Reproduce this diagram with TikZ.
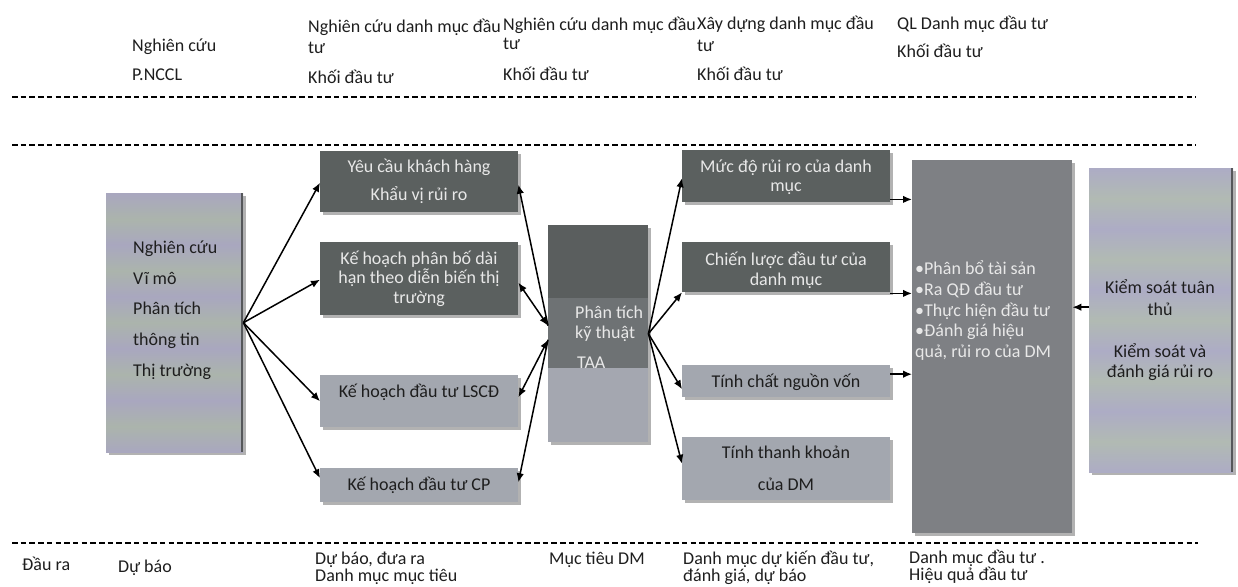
\documentclass[tikz,border=0pt]{standalone}
\usepackage{fontspec}
\setmainfont{Carlito}
\usetikzlibrary{arrows.meta,shadows,calc}
\definecolor{darkbox}{HTML}{5B605F}
\definecolor{lightbox}{HTML}{A3A7AF}
\definecolor{ctop}{HTML}{5A5E5E}
\definecolor{cmid}{HTML}{6E7274}
\definecolor{cbot}{HTML}{A4A7B0}
\definecolor{ebox}{HTML}{7E8084}
\definecolor{lavA}{HTML}{A9A7BF}
\definecolor{grnA}{HTML}{ABB4AC}
\definecolor{lavF}{HTML}{ADACC5}
\definecolor{grnF}{HTML}{B1BAB3}
\definecolor{edgeC}{HTML}{55575A}
\definecolor{txtlight}{HTML}{E8E8E8}
\definecolor{txtdark}{HTML}{1E1E1E}
\pgfdeclareverticalshading{bandsA}{100bp}{color(0bp)=(lavA); color(25bp)=(lavA); color(30bp)=(grnA); color(35bp)=(lavA); color(40bp)=(grnA); color(45bp)=(lavA); color(50bp)=(grnA); color(55bp)=(lavA); color(60bp)=(grnA); color(65bp)=(lavA); color(70bp)=(grnA); color(75bp)=(lavA); color(100bp)=(lavA)}
\pgfdeclareverticalshading{bandsF}{100bp}{color(0bp)=(lavF); color(25bp)=(lavF); color(30bp)=(grnF); color(35bp)=(lavF); color(40bp)=(grnF); color(45bp)=(lavF); color(50bp)=(grnF); color(55bp)=(lavF); color(60bp)=(grnF); color(65bp)=(lavF); color(70bp)=(grnF); color(75bp)=(lavF); color(100bp)=(lavF)}
\tikzset{
  txt/.style={font=\fontsize{18}{20}\selectfont, inner sep=0pt, text=txtdark},
  wtxt/.style={txt, text=txtlight},
  box/.style={draw=none, inner sep=0pt, anchor=north west,
    drop shadow={shadow xshift=2.5pt, shadow yshift=-2.5pt, opacity=0.3, fill=black}},
  dashline/.style={line width=1.6pt, dash pattern=on 5.5pt off 3.2pt},
  arr/.style={line width=1.5pt, -{Latex[length=9pt,width=7.5pt]}},
  arrb/.style={line width=1.5pt, {Latex[length=9pt,width=7.5pt]}-{Latex[length=9pt,width=7.5pt]}},
}
\begin{document}
\begin{tikzpicture}[x=1pt,y=-1pt]
\useasboundingbox[fill=white] (0,0) rectangle (1238,586);

% header texts
\node[txt,anchor=base west] (h1a) at (132,52) {Nghiên cứu};
\node[txt,anchor=base west] (h1b) at (132,81) {P.NCCL};
\node[txt,anchor=base west] (h2a) at (308,33) {Nghiên cứu danh mục đầu};
\node[txt,anchor=base west] (h2b) at (308,53) {tư};
\node[txt,anchor=base west] (h2c) at (308,83) {Khối đầu tư};
\node[txt,anchor=base west] (h3a) at (503,31) {Nghiên cứu danh mục đầu};
\node[txt,anchor=base west] (h3b) at (503,50) {tư};
\node[txt,anchor=base west] (h3c) at (503,80) {Khối đầu tư};
\node[txt,anchor=base west] (h4a) at (697,30) {Xây dựng danh mục đầu};
\node[txt,anchor=base west] (h4b) at (697,52) {tư};
\node[txt,anchor=base west] (h4c) at (697,80) {Khối đầu tư};
\node[txt,anchor=base west] (h5a) at (897,30) {QL Danh mục đầu tư};
\node[txt,anchor=base west] (h5b) at (897,58) {Khối đầu tư};

% dashed separators
\draw[dashline] (12,97) -- (1196,97);
\draw[dashline] (12,145) -- (1196,145);
\draw[dashline] (12,543) -- (1198,543);

% box A
\node[box, shading=bandsA, minimum width=137pt, minimum height=259pt] (a) at (106,193) {};
\draw[edgeC, line width=2pt] ([xshift=-1pt]a.north east) -- ([xshift=-1pt]a.south east);
\node[txt,anchor=base west] (at1) at (133,253) {Nghiên cứu};
\node[txt,anchor=base west] (at2) at (133,284) {Vĩ mô};
\node[txt,anchor=base west] (at3) at (133,314) {Phân tích};
\node[txt,anchor=base west] (at4) at (133,345) {thông tin};
\node[txt,anchor=base west] (at5) at (133,376) {Thị trường};

% B boxes
\node[box, fill=darkbox, minimum width=198pt, minimum height=61pt] (b1) at (320,151) {};
\node[wtxt,anchor=base] (b1t1) at (419,172) {Yêu cầu khách hàng};
\node[wtxt,anchor=base] (b1t2) at (419,200) {Khẩu vị rủi ro};
\node[box, fill=darkbox, minimum width=198pt, minimum height=73pt] (b2) at (320,242) {};
\node[wtxt,anchor=base] (b2t1) at (419,264) {Kế hoạch phân bố dài};
\node[wtxt,anchor=base] (b2t2) at (419,283) {hạn theo diễn biến thị};
\node[wtxt,anchor=base] (b2t3) at (419,303) {trường};
\node[box, fill=lightbox, minimum width=198pt, minimum height=52pt] (b3) at (320,375) {};
\node[txt,anchor=base] (b3t) at (419,397) {Kế hoạch đầu tư LSCĐ};
\node[box, fill=lightbox, minimum width=198pt, minimum height=34pt] (b4) at (320,468) {};
\node[txt,anchor=base] (b4t) at (419,490) {Kế hoạch đầu tư CP};

% C box
\node[box, fill=cbot, minimum width=100pt, minimum height=217pt] (c) at (548,225) {};
\fill[ctop] (c.north west) rectangle ($(c.north east)+(0,73)$);
\fill[cmid] ($(c.north west)+(0,73)$) rectangle ($(c.north east)+(0,143)$);
\node[wtxt,anchor=base west] (ct1) at (575,318) {Phân tích};
\node[wtxt,anchor=base west] (ct2) at (575,338) {kỹ thuật};
\node[wtxt,anchor=base west] (ct3) at (577,368) {TAA};

% D boxes
\node[box, fill=darkbox, minimum width=208pt, minimum height=52pt] (d1) at (682,150) {};
\node[wtxt,anchor=base] (d1t1) at (786,172) {Mức độ rủi ro của danh};
\node[wtxt,anchor=base] (d1t2) at (786,191) {mục};
\node[box, fill=darkbox, minimum width=208pt, minimum height=50pt] (d2) at (682,242) {};
\node[wtxt,anchor=base] (d2t1) at (786,265) {Chiến lược đầu tư của};
\node[wtxt,anchor=base] (d2t2) at (786,285) {danh mục};
\node[box, fill=lightbox, minimum width=208pt, minimum height=32pt] (d3) at (682,365) {};
\node[txt,anchor=base] (d3t) at (786,387) {Tính chất nguồn vốn};
\node[box, fill=lightbox, minimum width=208pt, minimum height=63pt] (d4) at (682,437) {};
\node[txt,anchor=base] (d4t1) at (786,458) {Tính thanh khoản};
\node[txt,anchor=base] (d4t2) at (786,490) {của DM};

% E box
\node[box, fill=ebox, minimum width=160pt, minimum height=373pt] (e) at (912,160) {};
\node[wtxt,anchor=base west] (et1) at (915,274) {•Phân bổ tài sản};
\node[wtxt,anchor=base west] (et2) at (915,295) {•Ra QĐ đầu tư};
\node[wtxt,anchor=base west] (et3) at (915,316) {•Thực hiện đầu tư};
\node[wtxt,anchor=base west] (et4) at (915,336) {•Đánh giá hiệu};
\node[wtxt,anchor=base west] (et5) at (915,357) {quả, rủi ro của DM};

% F box
\node[box, shading=bandsF, minimum width=144pt, minimum height=304pt] (f) at (1089,168) {};
\draw[edgeC, line width=2.5pt] ([xshift=-1.2pt]f.north east) -- ([xshift=-1.2pt]f.south east);
\node[txt,anchor=base] (ft1) at (1160,293) {Kiểm soát tuân};
\node[txt,anchor=base] (ft2) at (1160,315) {thủ};
\node[txt,anchor=base] (ft3) at (1160,357) {Kiểm soát và};
\node[txt,anchor=base] (ft4) at (1160,377) {đánh giá rủi ro};

% connectors A -> B
\draw[arr] (a.east) -- ([yshift=-1pt]b1.west);
\draw[arr] (a.east) -- ([yshift=-1pt]b2.west);
\draw[arr] (a.east) -- (b3.west);
\draw[arr] (a.east) -- ([yshift=7pt]b4.west);

% B <-> C
\coordinate (cu) at ([yshift=8pt]c.west);
\coordinate (cl) at ([yshift=-6pt]c.west);
\draw[arr] (cu) -- ([yshift=-3pt]b1.east);
\draw[arrb] ([yshift=-4pt]b2.east) -- (cu);
\draw[arrb] ([yshift=4pt]b3.east) -- (cl);
\draw[arr] (cl) -- ([yshift=3pt]b4.east);

% C -> D
\draw[arr] (c.east) -- ([yshift=-2pt]d1.west);
\draw[arr] (c.east) -- (d2.south west);
\draw[arr] (c.east) -- ([yshift=-8pt]d3.west);
\draw[arr] (c.east) -- ([yshift=5pt]d4.west);

% D -> E
\coordinate (d1o) at ([yshift=3pt]d1.south east);
\draw[arr] (d1o) -- (d1o -| e.west);
\coordinate (d2o) at ([yshift=-1pt]d2.south east);
\draw[arr] (d2o) -- (d2o -| e.west);
\coordinate (d3o) at ([yshift=7pt]d3.east);
\draw[arr] (d3o) -- (d3o -| e.west);

% F -> E
\coordinate (fo) at ([yshift=13pt]f.west);
\draw[arr] (fo) -- (fo -| e.east);

% bottom output texts
\node[txt,anchor=base west] (o1) at (22,570) {Đầu ra};
\node[txt,anchor=base west] (o2) at (118,572) {Dự báo};
\node[txt,anchor=base west] (o3a) at (315,564) {Dự báo, đưa ra};
\node[txt,anchor=base west] (o3b) at (315,581) {Danh mục mục tiêu};
\node[txt,anchor=base west] (o4) at (549,564) {Mục tiêu DM};
\node[txt,anchor=base west] (o5a) at (683,564) {Danh mục dự kiến đầu tư,};
\node[txt,anchor=base west] (o5b) at (683,581) {đánh giá, dự báo};
\node[txt,anchor=base west] (o6a) at (909,563) {Danh mục đầu tư .};
\node[txt,anchor=base west] (o6b) at (909,580) {Hiệu quả đầu tư};
\end{tikzpicture}
\end{document}
